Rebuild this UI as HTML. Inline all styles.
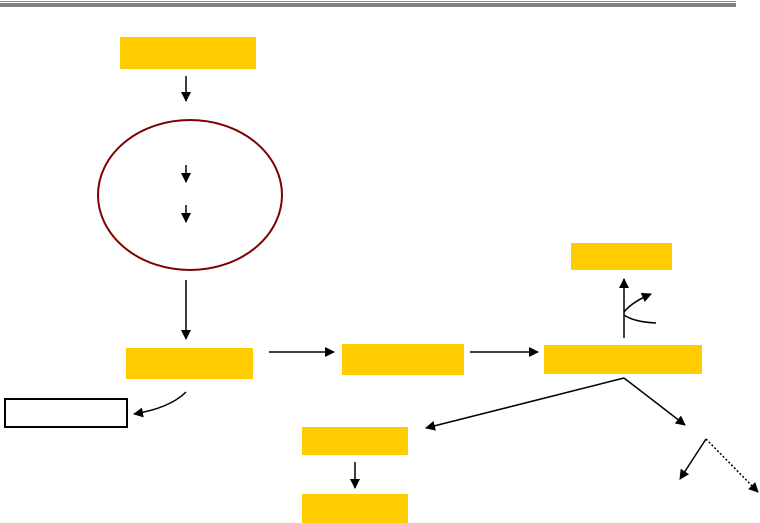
<!DOCTYPE html>
<html><head><meta charset="utf-8"><style>body{margin:0;background:#fff}svg{display:block}</style></head><body>
<svg width="760" height="523" viewBox="0 0 760 523" xmlns="http://www.w3.org/2000/svg">
<defs><marker id="a" markerWidth="10" markerHeight="10" refX="9" refY="5" orient="auto" markerUnits="userSpaceOnUse"><path d="M0,0 L10,5 L0,10 z" fill="#000"/></marker></defs>
<rect x="0" y="1" width="736" height="1" fill="#888"/>
<rect x="0" y="3" width="736" height="4" fill="#808080"/>
<g fill="#FFCC00">
<rect x="120" y="37" width="136" height="32"/>
<rect x="126" y="348" width="127" height="31"/>
<rect x="342" y="344" width="122" height="31"/>
<rect x="544" y="345" width="158" height="29"/>
<rect x="571" y="243" width="101" height="27"/>
<rect x="302" y="427" width="106" height="28"/>
<rect x="302" y="494" width="106" height="29"/>
</g>
<rect x="5" y="399" width="122" height="28" fill="#fff" stroke="#000" stroke-width="2"/>
<ellipse cx="190" cy="195" rx="92" ry="75" fill="none" stroke="#800000" stroke-width="2"/>
<g stroke="#000" stroke-width="1.5" fill="none" marker-end="url(#a)">
<line x1="186" y1="76" x2="186" y2="101"/>
<line x1="186" y1="165" x2="186" y2="182"/>
<line x1="186" y1="205" x2="186" y2="222"/>
<line x1="186" y1="280" x2="186" y2="339"/>
<line x1="269" y1="352" x2="334" y2="352"/>
<line x1="470" y1="352" x2="538" y2="352"/>
<line x1="624" y1="338" x2="624" y2="279"/>
<path d="M624,312 Q632,302 651,294"/>
<line x1="624" y1="378" x2="426" y2="428"/>
<line x1="624" y1="378" x2="685" y2="425"/>
<line x1="706" y1="439" x2="680" y2="479"/>
<line x1="706" y1="439" x2="758" y2="492" stroke-dasharray="2,2"/>
<line x1="355" y1="462" x2="355" y2="488"/>
<path d="M186,392 Q170,408 134,414"/>
</g>
<path d="M624,315 Q634,322 656,323" stroke="#000" stroke-width="1.5" fill="none"/>
</svg>
</body></html>
